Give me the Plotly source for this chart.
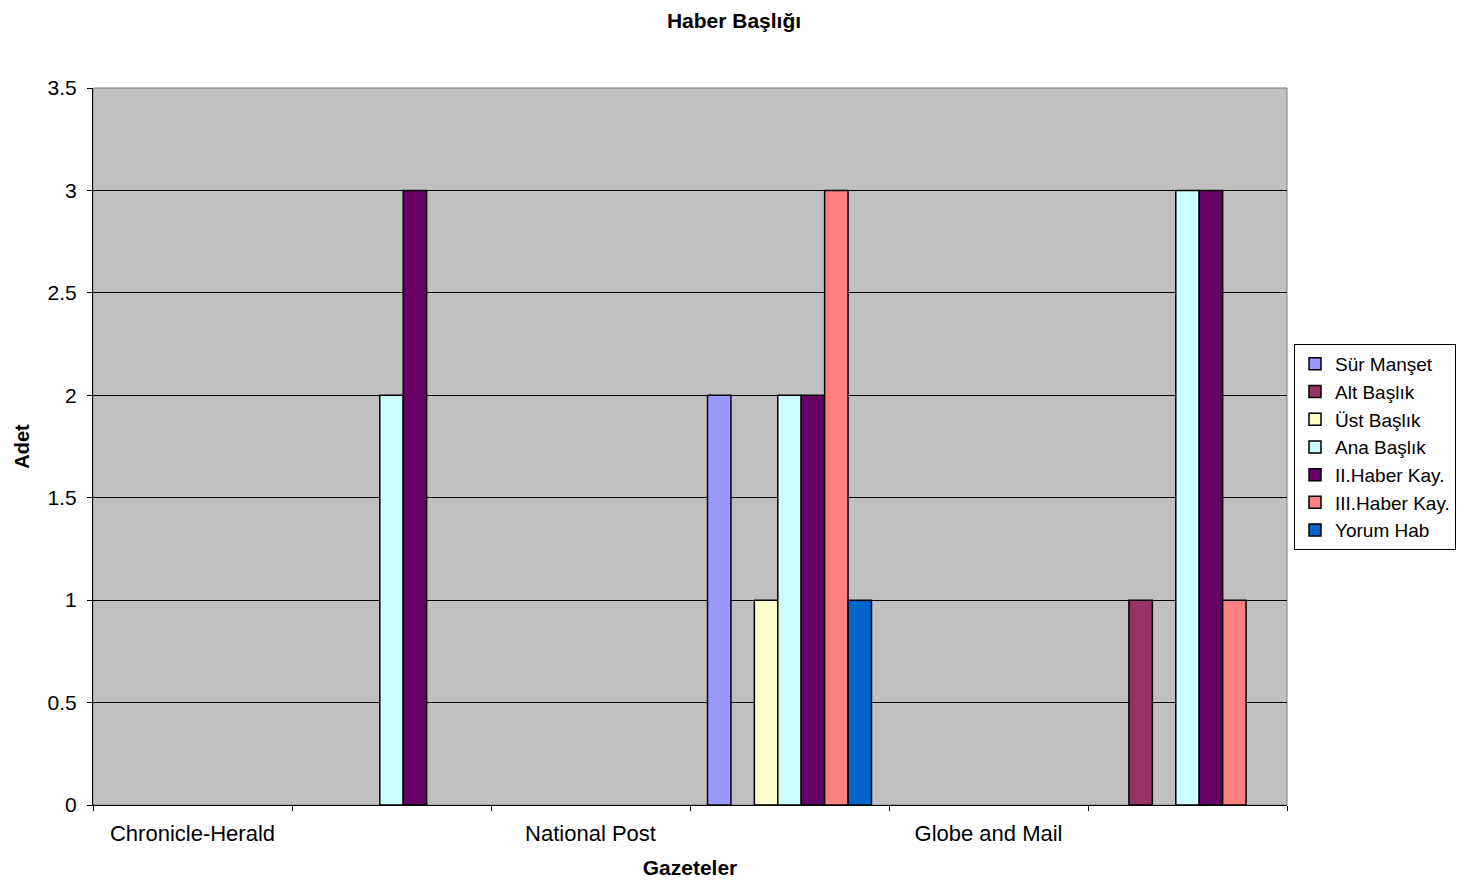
import plotly.graph_objects as go

categories = ["Chronicle-Herald", "", "National Post", "", "Globe and Mail", ""]
tick_labels = ["Chronicle-Herald", "National Post", "Globe and Mail"]
tick_positions = [0, 2, 4]

series_names = ["Sür Manşet", "Alt Başlık", "Üst Başlık", "Ana Başlık",
                "II.Haber Kay.", "III.Haber Kay.", "Yorum Hab"]
sur_manset = [0, 0, 0, 2, 0, 0]
alt_baslik = [0, 0, 0, 0, 0, 1]
ust_baslik = [0, 0, 0, 1, 0, 0]
ana_baslik = [0, 2, 0, 2, 0, 3]
ii_haber = [0, 3, 0, 2, 0, 3]
iii_haber = [0, 0, 0, 3, 0, 1]
yorum_hab = [0, 0, 0, 1, 0, 0]
series_values = [sur_manset, alt_baslik, ust_baslik, ana_baslik, ii_haber, iii_haber, yorum_hab]
colors = ["#9999FF", "#993366", "#FFFFCC", "#CCFFFF", "#660066", "#FF8080", "#0066CC"]

FONT = "Liberation Sans, Arial, sans-serif"
x_idx = list(range(len(categories)))

fig = go.Figure()
for name, vals, c in zip(series_names, series_values, colors):
    # empty (zero) cells are not drawn, as in the original spreadsheet chart
    fig.add_trace(go.Bar(
        x=x_idx, y=[v if v != 0 else None for v in vals], name=name,
        marker=dict(color=c, line=dict(color="black", width=1.5)),
    ))

# page body has an 8px margin; size the figure so the plot area lands where the reference has it
W, H = 1459, 874
fig.update_layout(
    width=W, height=H,
    barmode="group", bargap=0.176, bargroupgap=0,
    plot_bgcolor="#C0C0C0", paper_bgcolor="white",
    margin=dict(l=85, r=180, t=80, b=77, autoexpand=False),
    font=dict(family=FONT, size=20, color="black"),
    title=dict(text="<b>Haber Başlığı</b>", x=(734 - 8) / W, xref="container", xanchor="center",
               y=1 - 13 / H, yref="container", yanchor="middle",
               font=dict(family=FONT, size=21, color="black")),
    legend=dict(x=(1294 - 8) / W, xref="container", xanchor="left",
                y=1 - (447 - 8) / H, yref="container", yanchor="middle",
                bgcolor="white", bordercolor="black", borderwidth=1,
                font=dict(family=FONT, size=19, color="black"),
                itemwidth=30, tracegroupgap=0),
    showlegend=True,
)

fig.update_xaxes(
    range=[-0.5, 5.5],
    tickmode="array", tickvals=tick_positions, ticktext=tick_labels,
    ticks="", showgrid=False, zeroline=False,
    showline=True, linecolor="black", linewidth=1,
    ticklabelstandoff=9,
    tickfont=dict(family=FONT, size=22, color="black"),
    minor=dict(tickmode="array", tickvals=[i - 0.5 for i in range(len(categories) + 1)],
               ticks="outside", ticklen=5, tickcolor="black", showgrid=False),
    title=dict(text="<b>Gazeteler</b>", font=dict(family=FONT, size=21, color="black"), standoff=14),
)

fig.update_yaxes(
    range=[0, 3.5], dtick=0.5,
    showgrid=True, gridcolor="black", gridwidth=1,
    zeroline=False,
    showline=True, linecolor="black", linewidth=1,
    ticks="outside", ticklen=5, tickcolor="black",
    ticklabelstandoff=6,
    tickfont=dict(family=FONT, size=21, color="black"),
    title=dict(text="<b>Adet</b>", font=dict(family=FONT, size=20, color="black"), standoff=12),
)

fig.add_shape(type="rect", xref="paper", yref="paper", x0=0, x1=1, y0=0, y1=1,
              line=dict(color="#808080", width=1), layer="below")

fig.write_html("out.html")
